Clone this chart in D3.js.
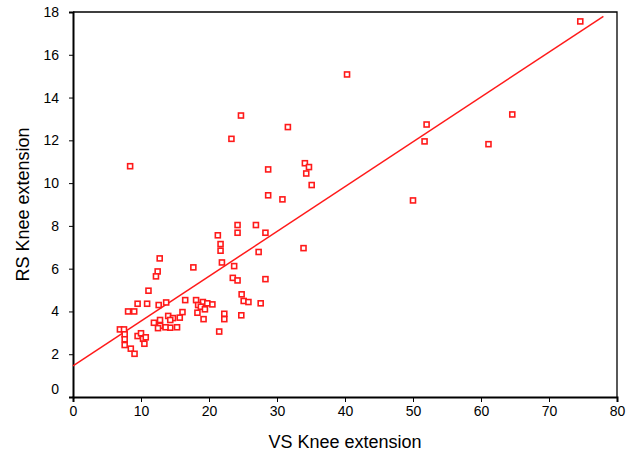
<!DOCTYPE html>
<html>
<head>
<meta charset="utf-8">
<script src="https://cdn.jsdelivr.net/npm/d3@7"></script>
<style>
  body { margin: 0; background: #fff; }
  text { font-family: "Liberation Sans", Arial, Helvetica, sans-serif; }
</style>
</head>
<body>
<div id="vis"></div>
<script>
// VS vs RS knee extension values
const vsValues = [74.6, 40.3, 64.6, 24.7, 52.0, 31.6, 23.3, 51.7, 61.1, 34.1,
  8.4, 34.7, 28.7, 34.3, 35.1, 28.7, 30.8, 50.0, 24.2, 26.9,
  24.2, 28.3, 21.3, 21.7, 33.9, 21.7, 27.3, 12.75, 21.9, 23.7,
  17.7, 12.45, 12.2, 23.5, 28.3, 24.2, 11.1, 24.8, 16.5, 18.1,
  25.1, 13.7, 19.1, 25.8, 27.6, 19.75, 20.5, 9.5, 10.9, 12.6,
  18.4, 18.8, 19.4, 8.1, 9.0, 16.1, 18.3, 22.25, 24.75, 14.0,
  15.7, 14.7, 22.25, 19.2, 14.3, 12.8, 11.9, 15.3, 14.3, 13.6,
  12.8, 12.5, 21.5, 6.9, 7.5, 7.6, 7.6, 7.6, 8.5, 9.05,
  9.5, 10.0, 10.3, 10.7, 10.5]
const rsValues = [17.56, 15.08, 13.21, 13.16, 12.74, 12.62, 12.07, 11.95, 11.82, 10.93,
  10.79, 10.75, 10.64, 10.45, 9.91, 9.43, 9.24, 9.19, 8.04, 8.04,
  7.68, 7.68, 7.56, 7.15, 6.96, 6.84, 6.78, 6.48, 6.29, 6.12,
  6.06, 5.87, 5.64, 5.57, 5.51, 5.45, 4.97, 4.8, 4.53, 4.53,
  4.49, 4.42, 4.44, 4.44, 4.38, 4.38, 4.33, 4.36, 4.36, 4.3,
  4.3, 4.22, 4.1, 4.0, 4.0, 3.97, 3.94, 3.89, 3.82, 3.79,
  3.71, 3.69, 3.64, 3.64, 3.6, 3.6, 3.47, 3.26, 3.24, 3.26,
  3.33, 3.22, 3.06, 3.16, 3.16, 2.93, 2.7, 2.43, 2.26, 2.02,
  2.85, 2.98, 2.72, 2.79, 2.49]

// fitted line end points
const fitX = [0, 78]
const fitY = [1.45, 17.8]

const xTicks = [0, 10, 20, 30, 40, 50, 60, 70, 80]
const yTicks = [0, 2, 4, 6, 8, 10, 12, 14, 16, 18]

const width = 634, height = 455
const margin = {top: 12, right: 17, bottom: 58, left: 73}
const red = "#ff1a1a"

const svg = d3.select("#vis").append("svg")
    .attr("width", width)
    .attr("height", height)

const x = d3.scaleLinear().domain([0, 80]).range([margin.left, width - margin.right])
const y = d3.scaleLinear().domain([0, 18]).range([height - margin.bottom, margin.top])

// frame top and right
svg.append("path")
    .attr("d", `M${x(0)},${y(18)}H${x(80)}V${y(0)}`)
    .attr("fill", "none")
    .attr("stroke", "#000")
    .attr("stroke-width", 1.3)

// x axis
const gx = svg.append("g")
    .attr("transform", "translate(0," + y(0) + ")")
    .call(d3.axisBottom(x).tickValues(xTicks).tickSize(5).tickPadding(4))
gx.select(".domain").attr("stroke-width", 2)
gx.selectAll("text").attr("font-size", 14).attr("fill", "#000")

// y axis
const gy = svg.append("g")
    .attr("transform", "translate(" + x(0) + ",0)")
    .call(d3.axisLeft(y).tickValues(yTicks).tickSize(4).tickPadding(10))
gy.select(".domain").attr("stroke-width", 2)
gy.selectAll("text").attr("font-size", 14).attr("fill", "#000")
// the 0 label sits a little above the axis line
gy.selectAll(".tick").filter(d => d === 0).select("text").attr("dy", "-0.25em")

// axis titles
svg.append("text")
    .attr("x", (x(0) + x(80)) / 2)
    .attr("y", 448)
    .attr("text-anchor", "middle")
    .attr("font-size", 18)
    .text("VS Knee extension")

svg.append("text")
    .attr("transform", "translate(29," + ((y(0) + y(18)) / 2) + ")rotate(-90)")
    .attr("text-anchor", "middle")
    .attr("font-size", 18)
    .text("RS Knee extension")

// regression line
svg.append("line")
    .attr("x1", x(fitX[0])).attr("y1", y(fitY[0]))
    .attr("x2", x(fitX[1])).attr("y2", y(fitY[1]))
    .attr("stroke", red)
    .attr("stroke-width", 1.5)

// points as hollow squares
const pts = vsValues.map((v, i) => ({vs: v, rs: rsValues[i]}))
svg.selectAll(".pt")
    .data(pts)
    .enter()
    .append("rect")
    .attr("class", "pt")
    .attr("x", d => x(d.vs) - 2.5)
    .attr("y", d => y(d.rs) - 2.5)
    .attr("width", 5)
    .attr("height", 5)
    .attr("fill", "#fff")
    .attr("stroke", red)
    .attr("stroke-width", 1.6)
</script>
</body>
</html>
